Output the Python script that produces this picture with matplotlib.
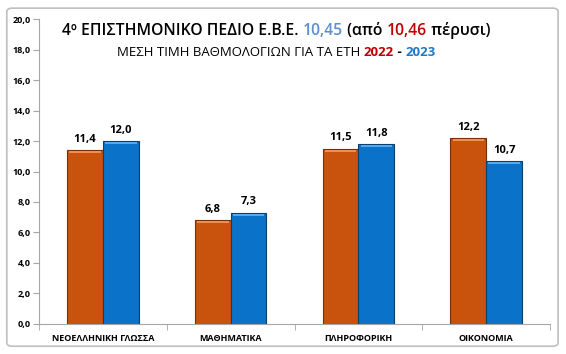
import numpy as np
import matplotlib
matplotlib.use('Agg')
import matplotlib.pyplot as plt
from matplotlib.offsetbox import TextArea, HPacker, AnnotationBbox
from matplotlib.patches import FancyBboxPatch

plt.rcParams['font.family'] = ['Open Sans', 'DejaVu Sans']

# ---------------- datos ----------------
categorias = ['ΝΕΟΕΛΛΗΝΙΚΗ ΓΛΩΣΣΑ', 'ΜΑΘΗΜΑΤΙΚΑ', 'ΠΛΗΡΟΦΟΡΙΚΗ', 'ΟΙΚΟΝΟΜΙΑ']
valores_2022 = [11.4, 6.8, 11.5, 12.2]
valores_2023 = [12.0, 7.3, 11.8, 10.7]
ticks_y = [0, 2, 4, 6, 8, 10, 12, 14, 16, 18, 20]

naranja = '#C9530C'
azul = '#0A72C8'

fig = plt.figure(figsize=(5.66, 3.54), dpi=100)
ax = fig.add_axes([0.069, 0.085, 0.903, 0.861])

# marco exterior gris redondeado
marco = FancyBboxPatch((0.012, 0.022), 0.974, 0.955, boxstyle='round,pad=0,rounding_size=0.01',
                       transform=fig.transFigure, facecolor='none', edgecolor='#BFBFBF', linewidth=1.2)
fig.patches.append(marco)

x = np.arange(len(categorias))
ancho = 0.28

b1 = ax.bar(x - ancho / 2, valores_2022, ancho, color=naranja, edgecolor='#7A2E05', linewidth=0.8)
b2 = ax.bar(x + ancho / 2, valores_2023, ancho, color=azul, edgecolor='#0B3F6E', linewidth=0.8)

# brillo superior de las barras
ax.bar(x - ancho / 2, [0.14] * 4, ancho * 0.88, bottom=np.array(valores_2022) - 0.2, color='#EE8E50', linewidth=0)
ax.bar(x + ancho / 2, [0.14] * 4, ancho * 0.88, bottom=np.array(valores_2023) - 0.2, color='#55A8EC', linewidth=0)

# etiquetas de valores
for barras in (b1, b2):
    for b in barras:
        h = b.get_height()
        ax.text(b.get_x() + b.get_width() / 2, h + 0.35, f'{h:.1f}'.replace('.', ','),
                ha='center', va='bottom', fontsize=8, fontweight='bold')

ax.set_xlim(-0.5, 3.5)
ax.set_ylim(0, 20)
ax.set_yticks(ticks_y)
ax.set_yticklabels([f'{t:.1f}'.replace('.', ',') for t in ticks_y], fontsize=6.5, fontweight='bold')
ax.set_xticks(x)
ax.set_xticklabels(categorias, fontsize=6.5, fontweight='bold')
ax.set_xticks(np.arange(-0.5, 4, 1), minor=True)
ax.tick_params(axis='x', which='major', length=0, pad=7)
ax.tick_params(axis='x', which='minor', length=4, color='#A6A6A6')
ax.tick_params(axis='y', length=4, color='#A6A6A6', pad=2)

for lado in ['top', 'right']:
    ax.spines[lado].set_visible(False)
for lado in ['left', 'bottom']:
    ax.spines[lado].set_color('#A6A6A6')

# titulo con colores
partes = [('4º ΕΠΙΣΤΗΜΟΝΙΚΟ ΠΕΔΙΟ Ε.Β.Ε. ', 'black'), ('10,45', '#5B8FD0'),
          (' (από ', 'black'), ('10,46', '#C00000'), (' πέρυσι)', 'black')]
cajas = [TextArea(t, textprops=dict(color=c, fontsize=11.3, fontweight='semibold')) for t, c in partes]
titulo = HPacker(children=cajas, align='baseline', pad=0, sep=0)
fig.add_artist(AnnotationBbox(titulo, (0.488, 0.914), xycoords='figure fraction', frameon=False,
                              box_alignment=(0.5, 0.5)))

partes2 = [('ΜΕΣΗ ΤΙΜΗ ΒΑΘΜΟΛΟΓΙΩΝ ΓΙΑ ΤΑ ΕΤΗ ', 'black', 'normal'), ('2022', '#C00000', 'bold'),
           (' - ', 'black', 'bold'), ('2023', '#1F7AC6', 'bold')]
cajas2 = [TextArea(t, textprops=dict(color=c, fontsize=9.5, fontweight=w)) for t, c, w in partes2]
subtitulo = HPacker(children=cajas2, align='baseline', pad=0, sep=0)
fig.add_artist(AnnotationBbox(subtitulo, (0.488, 0.852), xycoords='figure fraction', frameon=False,
                              box_alignment=(0.5, 0.5)))

fig.savefig('out.png', dpi=100)
